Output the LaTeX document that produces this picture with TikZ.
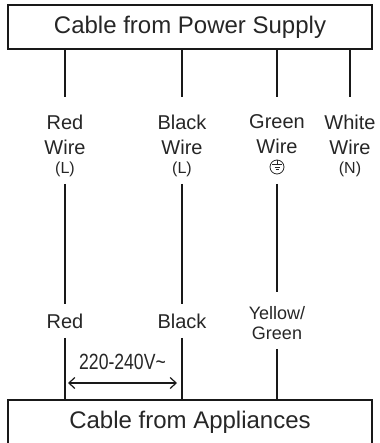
\documentclass[tikz,border=0pt]{standalone}
\usepackage{fontspec}
\setmainfont{Liberation Sans}
\newfontfamily\narrowfont[FakeStretch=0.8]{Liberation Sans}
\usetikzlibrary{arrows.meta}
\newcommand\tagsize{\fontsize{16}{16}\selectfont}

\begin{document}
\begin{tikzpicture}%
		[x=1pt, y=-1pt,
		line width=1.6pt,
		draw=black!90,
		every node/.style={text=black!85}
		]
		\tikzstyle{cable}=[draw=black!90, rectangle, minimum width=364pt, minimum height=44pt, inner sep=0pt, font=\fontsize{24}{28}\selectfont]
		\tikzstyle{wire}=[align=center, inner sep=0pt, minimum height=85pt, font=\fontsize{20}{25}\selectfont]
		\tikzstyle{colour}=[align=center, inner sep=0pt, font=\fontsize{20}{24}\selectfont]
		\tikzstyle{earth}=[circle, draw=black!85, line width=0.8pt, minimum size=14pt, inner sep=0pt]
		\useasboundingbox (0,0) rectangle (379,443);
		
		% cables
		\node[cable] (Supply) at (190,27) {Cable from Power Supply};
		\node[cable] (Appliances) at (190,422) {Cable from Appliances};
		
		% wires at the supply side
		\node[wire] (RedWire) at (65,140.5)   {\rule{0pt}{25pt}Red\\Wire\\[-6pt]{\tagsize (L)}};
		\node[wire] (BlackWire) at (182,140.5) {\rule{0pt}{25pt}Black\\Wire\\[-6pt]{\tagsize (L)}};
		\node[wire] (GreenWire) at (277,140.5) {\rule{0pt}{25pt}Green\\Wire\\[-6pt]{\tagsize\strut}};
		\node[wire] (WhiteWire) at (350,140.5) {\rule{0pt}{25pt}White\\Wire\\[-6pt]{\tagsize (N)}};
		\node[earth, path picture={
			\draw[line width=0.8pt] (Earth.north) -- ++(0pt,-5pt)
			++(-5pt,0pt) -- ++(10pt,0pt)
			++(-7.5pt,-2.5pt) -- ++(5pt,0pt)
			++(-4pt,-2.5pt) -- ++(3pt,0pt);}] (Earth) at (277,167) {};
		
		% wires at the appliance side
		\node[colour, minimum height=32pt] (Red) at (65,321)   {Red};
		\node[colour, minimum height=32pt] (Black) at (182,321) {Black};
		\node[colour, minimum height=55pt, font=\fontsize{18}{20}\selectfont] (YellowGreen) at (277,320.5) {\rule{0pt}{19pt}Yellow/\\Green};
		
		\foreach \w in {RedWire, BlackWire, GreenWire, WhiteWire}
			\draw (Supply.south -| \w) -- (\w.north);
		\draw (RedWire) -- (Red) -- (Appliances.north -| Red);
		\draw (BlackWire) -- (Black) -- (Appliances.north -| Black);
		\draw (GreenWire) -- (YellowGreen) -- (Appliances.north -| YellowGreen);
		
		% voltage between the live wires
		\coordinate (VoltL) at (68,383);
		\coordinate (VoltR) at (177,383);
		\draw[{Straight Barb[length=6pt,width=11pt]}-{Straight Barb[length=6pt,width=11pt]}, line width=1.2pt]
			(VoltL) -- node[above=9pt, font=\narrowfont\fontsize{22}{24}\selectfont] {220-240V\char`~} (VoltR);
\end{tikzpicture}
\end{document}
